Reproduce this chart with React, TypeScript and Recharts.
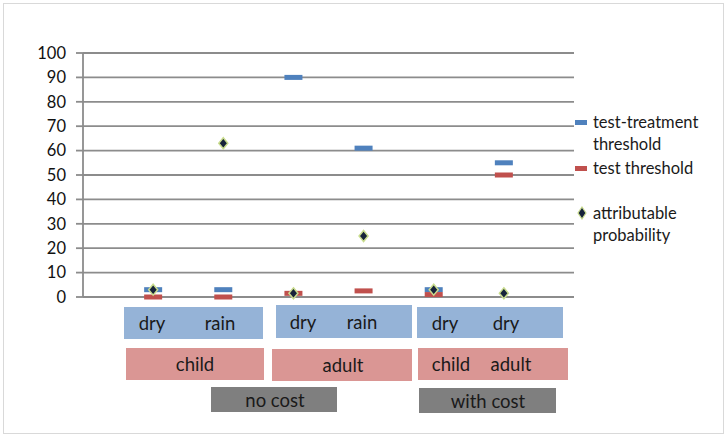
import { ScatterChart, Scatter, XAxis, YAxis, CartesianGrid } from 'recharts';

// x positions 1..6 on a 0..7 axis (ends left empty like the original)
const positions = [1, 2, 3, 4, 5, 6];
const seasons = ['dry', 'rain', 'dry', 'rain', 'dry', 'dry'];
const ageGroups = ['child', 'adult', 'child', 'adult'];
const costGroups = ['no cost', 'with cost'];

const testTreatment = [3, 3, 90, 61, 3, 55];
const testThreshold = [0, 0, 1.5, 2.5, 1, 50];
const attributable = [3, 63, 1.5, 25, 3, 1.5];

const yTicks = [0, 10, 20, 30, 40, 50, 60, 70, 80, 90, 100];

const seriesNames = ['test-treatment threshold', 'test threshold', 'attributable probability'];
const BLUE = '#4F81BD';
const RED = '#C0504D';
const FONT = 'Lato, "Open Sans", sans-serif';

const toPoints = (vals: number[]) => positions.map((x, i) => ({ x, y: vals[i] }));

const Dash = (color: string) => (p: any) => (
  <rect x={p.cx - 9} y={p.cy - 2.5} width={18} height={5} fill={color} />
);

const Diamond = (p: any) => (
  <polygon
    points={`${p.cx},${p.cy - 5.5} ${p.cx + 4.5},${p.cy} ${p.cx},${p.cy + 5.5} ${p.cx - 4.5},${p.cy}`}
    fill="#17233a"
    stroke="#c9dc8e"
    strokeWidth={1.5}
  />
);

// box layout (pixels), labels come from the arrays above
const seasonBoxes = [
  { x: 124, y: 307, w: 139, h: 32, items: [[0, 152], [1, 220]] },
  { x: 276, y: 305, w: 136, h: 33, items: [[2, 303], [3, 362]] },
  { x: 417, y: 307, w: 146, h: 31, items: [[4, 445], [5, 506]] },
];
const ageBoxes = [
  { x: 126, y: 348, w: 138, h: 32, items: [[0, 195]] },
  { x: 272, y: 349, w: 140, h: 32, items: [[1, 343]] },
  { x: 418, y: 348, w: 150, h: 32, items: [[2, 451], [3, 511]] },
];
const costBoxes = [
  { x: 211, y: 387, w: 126, h: 25, items: [[0, 275]] },
  { x: 419, y: 388, w: 137, h: 25, items: [[1, 488]] },
];

const Boxes = ({ boxes, labels, color }: { boxes: any[]; labels: string[]; color: string }) => (
  <>
    {boxes.map((b, i) => (
      <div key={i} style={{ position: 'absolute', left: b.x, top: b.y, width: b.w, height: b.h, background: color }}>
        {b.items.map(([li, cx]: number[]) => (
          <span
            key={li}
            style={{
              position: 'absolute',
              left: cx - b.x,
              top: '50%',
              transform: 'translate(-50%, -50%)',
              fontSize: 18.5,
              color: '#1a1a1a',
              whiteSpace: 'nowrap',
              lineHeight: 1,
            }}
          >
            {labels[li]}
          </span>
        ))}
      </div>
    ))}
  </>
);

const legendRows = [
  { y: 111, marker: 'dash', color: BLUE, lines: ['test-treatment', 'threshold'] },
  { y: 157, marker: 'dash', color: RED, lines: ['test threshold'] },
  { y: 202, marker: 'diamond', color: '', lines: ['attributable', 'probability'] },
];

export default function App() {
  return (
    <div style={{ position: 'fixed', left: 0, top: 0, width: 727, height: 438, background: '#fff', fontFamily: FONT }}>
      <div style={{ position: 'absolute', left: 3, top: 3, width: 719, height: 429, border: '1px solid #d9d9d9' }} />
      <ScatterChart width={727} height={438} margin={{ top: 53, right: 153, bottom: 141, left: 23 }}>
        <CartesianGrid vertical={false} stroke="#8c8c8c" strokeWidth={1.8} />
        <XAxis type="number" dataKey="x" domain={[0, 7]} hide height={0} />
        <YAxis
          type="number"
          dataKey="y"
          domain={[0, 100]}
          ticks={yTicks}
          width={60}
          tickSize={7}
          tickMargin={10}
          interval={0}
          axisLine={{ stroke: '#8c8c8c', strokeWidth: 1.8 }}
          tickLine={{ stroke: '#8c8c8c', strokeWidth: 1.8 }}
          tick={{ fill: '#111', fontSize: 16.5, fontFamily: FONT }}
        />
        <Scatter name={seriesNames[0]} data={toPoints(testTreatment)} shape={Dash(BLUE)} isAnimationActive={false} />
        <Scatter name={seriesNames[1]} data={toPoints(testThreshold)} shape={Dash(RED)} isAnimationActive={false} />
        <Scatter name={seriesNames[2]} data={toPoints(attributable)} shape={Diamond} isAnimationActive={false} />
      </ScatterChart>

      {legendRows.map((r, i) => (
        <div key={i} style={{ position: 'absolute', left: 575, top: r.y, fontSize: 16.5, lineHeight: '22px', color: '#1a1a1a' }}>
          {r.marker === 'dash' ? (
            <div style={{ position: 'absolute', left: 0, top: 9, width: 12, height: 5, background: r.color }} />
          ) : (
            <svg style={{ position: 'absolute', left: 1, top: 4 }} width={12} height={14}>
              <polygon points="6,1 10,7 6,13 2,7" fill="#17233a" stroke="#c9dc8e" strokeWidth={1.2} />
            </svg>
          )}
          <div style={{ marginLeft: 18, whiteSpace: 'nowrap' }}>
            {r.lines.map((l, j) => (
              <div key={j}>{l}</div>
            ))}
          </div>
        </div>
      ))}

      <Boxes boxes={seasonBoxes} labels={seasons} color="#95B3D7" />
      <Boxes boxes={ageBoxes} labels={ageGroups} color="#DA9694" />
      <Boxes boxes={costBoxes} labels={costGroups} color="#7F7F7F" />
    </div>
  );
}
